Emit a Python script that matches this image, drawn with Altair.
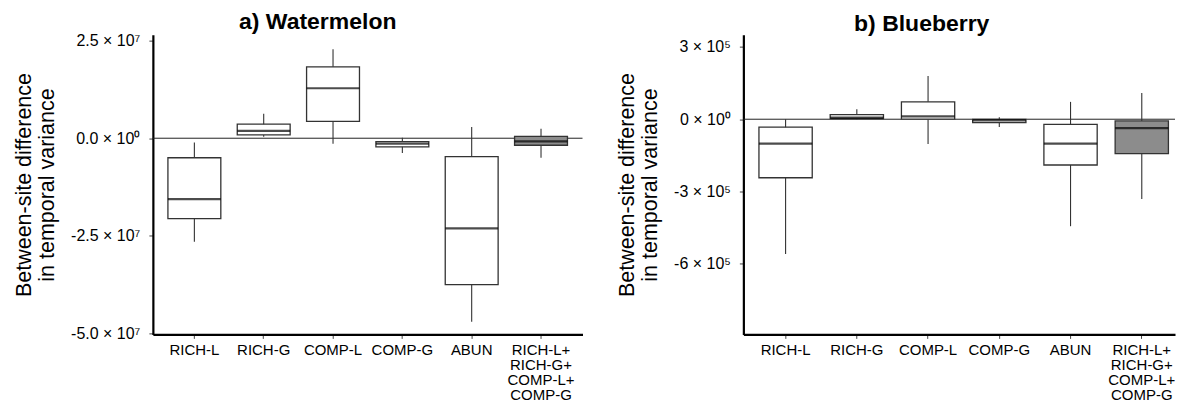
import altair as alt
import pandas as pd

categories = ["RICH-L", "RICH-G", "COMP-L", "COMP-G", "ABUN", "RICH-L+ RICH-G+ COMP-L+ COMP-G"]
box_fill = ["white", "white", "white", "white", "white", "#8c8c8c"]

# a) Watermelon (values)
wm_low = [-2.65e7, 0.04e7, -0.14e7, -0.38e7, -4.70e7, -0.50e7]
wm_q1 = [-2.06e7, 0.085e7, 0.43e7, -0.22e7, -3.75e7, -0.18e7]
wm_med = [-1.56e7, 0.19e7, 1.28e7, -0.14e7, -2.31e7, -0.08e7]
wm_q3 = [-0.50e7, 0.36e7, 1.83e7, -0.088e7, -0.47e7, 0.05e7]
wm_high = [-0.11e7, 0.63e7, 2.28e7, 0.01e7, 0.29e7, 0.24e7]
wm_ticks = [2.5e7, 0, -2.5e7, -5e7]
wm_tick_labels = ["2.5 \u00d7 10\u2077", "0.0 \u00d7 10\u2070", "-2.5 \u00d7 10\u2077", "-5.0 \u00d7 10\u2077"]
wm_domain = [-5.026e7, 2.654e7]

# b) Blueberry (values)
bb_low = [-5.59e5, 0.0, -1.03e5, -0.32e5, -4.44e5, -3.31e5]
bb_q1 = [-2.43e5, 0.03e5, 0.0, -0.14e5, -1.90e5, -1.43e5]
bb_med = [-1.01e5, 0.07e5, 0.12e5, -0.05e5, -1.01e5, -0.37e5]
bb_q3 = [-0.33e5, 0.19e5, 0.72e5, -0.01e5, -0.21e5, -0.07e5]
bb_high = [0.0, 0.41e5, 1.79e5, 0.08e5, 0.72e5, 1.09e5]
bb_ticks = [3e5, 0, -3e5, -6e5]
bb_tick_labels = ["3 \u00d7 10\u2075", "0 \u00d7 10\u2070", "-3 \u00d7 10\u2075", "-6 \u00d7 10\u2075"]
bb_domain = [-8.93e5, 3.51e5]

FONT = "Liberation Sans"
Y_TITLE = ["Between-site difference", "in temporal variance"]


def label_expr(ticks, labels):
    expr = "''"
    for v, l in reversed(list(zip(ticks, labels))):
        expr = f"datum.value == {v} ? '{l}' : " + expr
    return expr


def panel(title, dx, low, q1, med, q3, high, ticks, tick_labels, domain,
          width, p_inner, p_outer, align):
    df = pd.DataFrame({"cat": categories, "low": low, "q1": q1, "med": med,
                       "q3": q3, "high": high, "fill": box_fill})
    n = len(categories)
    step = width / (n - p_inner + 2 * p_outer)
    bandwidth = step * (1 - p_inner)

    x_axis = alt.Axis(title=None, labelAngle=0, labelExpr="split(datum.label, ' ')",
                      labelFontSize=15, labelLineHeight=15, labelPadding=4,
                      labelBaseline="top", domainWidth=2.2)
    x_scale = alt.Scale(paddingInner=p_inner, paddingOuter=p_outer, align=align)
    x = alt.X("cat:N", sort=categories, scale=x_scale, axis=x_axis)

    y_axis = alt.Axis(title=Y_TITLE, values=ticks, labelExpr=label_expr(ticks, tick_labels),
                      labelFontSize=16, labelPadding=9, titleFontSize=21.5,
                      titleLineHeight=23, titlePadding=12, titleFontWeight="normal",
                      domainWidth=2.2)
    y_scale = alt.Scale(domain=domain, nice=False, zero=False)

    base = alt.Chart(df)
    zero = alt.Chart(pd.DataFrame({"cat": [categories[0]], "z": [0]})).mark_rule(
        color="#222", strokeWidth=1).encode(
        y=alt.Y("z:Q", scale=y_scale, axis=y_axis))
    whisk = base.mark_rule(color="#333", strokeWidth=1.1).encode(
        x=x, y=alt.Y("low:Q", scale=y_scale, axis=y_axis), y2="high:Q")
    box = base.mark_bar(stroke="#333", strokeWidth=1.3).encode(
        x=x, y=alt.Y("q1:Q", scale=y_scale, axis=y_axis), y2="q3:Q",
        fill=alt.Fill("fill:N", scale=None))
    medl = base.mark_tick(color="black", thickness=2.2, size=bandwidth).encode(
        x=x, y=alt.Y("med:Q", scale=y_scale, axis=y_axis))
    return alt.layer(zero, whisk, box, medl).properties(
        width=width, height=300,
        title=alt.TitleParams(title, dx=dx))


a = panel("a) Watermelon", -50, wm_low, wm_q1, wm_med, wm_q3, wm_high,
          wm_ticks, wm_tick_labels, wm_domain, 430, 0.237, 0.217, 0.5)
b = panel("b) Blueberry", -37.5, bb_low, bb_q1, bb_med, bb_q3, bb_high,
          bb_ticks, bb_tick_labels, bb_domain, 432, 0.252, 0.1555, 0.703)

chart = alt.hconcat(a, b, spacing=33).properties(
    padding={"left": 5, "top": 2.5, "right": 0, "bottom": 0}
).configure_view(stroke=None).configure_axis(
    domainColor="black", tickColor="#444", tickWidth=1, tickSize=4,
    labelFont=FONT, titleFont=FONT, labelColor="black", titleColor="black", grid=False
).configure_title(
    font=FONT, fontSize=23, fontWeight="bold", anchor="middle", offset=-1.5, color="black"
)

chart.save("out.html", embed_options={"renderer": "svg", "actions": False})
